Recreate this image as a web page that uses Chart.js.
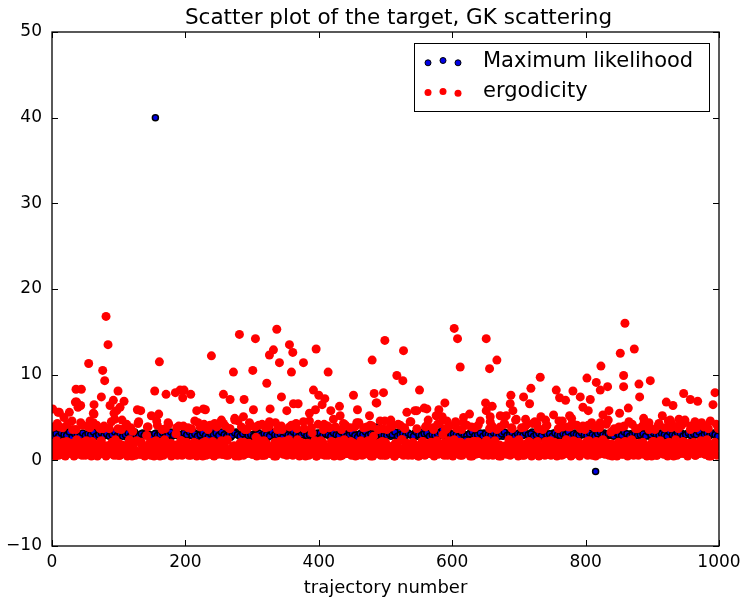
<!DOCTYPE html>
<html>
<head>
<meta charset="utf-8">
<script src="https://cdn.jsdelivr.net/npm/chart.js@4.4.0/dist/chart.umd.min.js"></script>
<style>
  body { margin: 0; background: #fff; }
  #wrap { width: 742px; height: 599px; }
</style>
</head>
<body>
<div id="wrap"><canvas id="g1"></canvas></div>
<script>
// Maximum likelihood: two interleaved runs of trajectories (every 4, offsets 0 and 2)
var mlStep = 4;
var mlBulkA = [
 3.0,2.8,3.2,2.9,3.1,2.7,3.3,3.0,2.9,3.2,2.8,3.1,3.0,2.7,3.3,2.9,3.1,3.0,2.8,3.2,2.9,3.4,3.0,2.8,3.1,
 2.9,3.2,3.0,2.7,3.1,2.9,3.3,2.8,3.0,3.2,2.9,3.1,2.7,3.0,3.2,2.8,3.3,2.9,3.1,3.0,2.8,3.2,2.9,3.0,3.1,
 3.2,2.8,3.0,3.3,2.9,3.1,2.7,3.0,3.2,2.9,3.4,3.0,2.8,3.1,2.9,3.2,3.0,2.7,3.1,3.3,2.9,3.0,2.8,3.2,3.0,
 2.8,3.1,3.3,2.9,3.0,3.2,2.7,3.1,2.9,3.0,3.2,2.8,3.3,3.0,2.9,3.1,2.8,3.2,3.0,2.9,3.1,2.7,3.3,3.0,2.9,
 3.1,2.9,3.0,3.2,2.8,3.0,3.3,2.9,3.1,2.7,3.0,3.2,2.9,3.1,3.0,2.8,3.2,3.4,2.9,3.0,3.1,2.8,3.0,3.2,2.9,
 3.0,3.2,2.8,3.1,2.9,3.3,3.0,2.7,3.1,3.0,2.9,3.2,2.8,3.0,3.3,2.9,3.1,3.0,2.8,3.2,2.9,3.0,3.1,2.7,3.2,
 2.9,3.0,3.2,2.8,3.1,3.0,2.9,3.3,2.8,3.0,3.1,2.9,3.2,3.0,2.7,3.1,3.0,2.9,3.3,2.8,3.0,3.2,2.9,3.1,3.0,
 3.2,2.9,3.0,3.1,2.8,3.3,2.9,3.0,3.2,2.7,3.1,3.0,2.9,3.2,2.8,3.0,3.1,3.3,2.9,3.0,2.8,3.2,3.0,2.9,3.1,
 3.0,2.8,3.1,3.2,2.9,3.0,2.7,3.2,3.0,2.9,3.3,3.1,2.8,3.0,3.2,2.9,3.0,3.1,2.8,3.3,3.0,2.9,3.2,3.0,2.8,
 3.1,3.0,2.9,3.2,2.8,3.0,3.1,2.9,3.3,3.0,2.8,3.2,2.9,3.1,3.0,2.7,3.2,3.0,2.9,3.1,3.3,2.8,3.0,3.2,2.9
];
var mlBulkB = [
 2.9,3.1,2.8,3.2,3.0,2.9,3.3,2.7,3.1,3.0,2.8,3.2,2.9,3.1,3.0,3.3,2.8,3.0,3.2,2.9,3.1,2.8,3.0,3.3,2.9,
 3.1,2.8,3.0,3.2,2.9,3.3,3.0,2.8,3.1,2.9,3.2,3.0,2.7,3.1,2.9,3.0,3.2,2.8,3.0,3.3,2.9,3.1,3.0,2.8,3.2,
 3.0,3.3,2.9,3.1,2.8,3.0,3.2,2.9,2.7,3.1,3.0,3.2,2.9,3.3,3.0,2.8,3.1,2.9,3.2,3.0,2.8,3.1,3.3,2.9,3.0,
 2.8,3.0,3.2,2.9,3.1,3.0,2.8,3.3,3.0,2.9,3.1,2.7,3.2,3.0,2.9,3.3,3.1,2.8,3.0,3.2,2.9,3.0,3.1,2.8,3.2,
 3.2,2.9,3.1,3.0,2.8,3.2,3.0,2.9,3.3,3.1,2.8,3.0,3.2,2.9,2.7,3.1,3.0,3.3,2.9,3.1,3.0,2.8,3.2,3.0,2.9,
 2.9,3.1,3.0,3.3,2.8,3.0,3.1,2.9,3.2,3.0,2.8,3.3,3.0,2.9,3.1,3.2,2.8,3.0,2.9,3.1,3.3,3.0,2.8,3.2,3.0,
 3.1,3.0,2.8,3.2,3.0,2.9,3.1,3.3,2.9,3.0,3.2,2.8,3.1,3.0,2.9,3.2,3.0,2.8,3.1,3.3,2.9,3.0,3.2,2.8,3.1,
 3.0,2.9,3.2,3.0,3.1,2.8,3.0,3.2,2.9,3.3,3.0,3.1,2.8,3.2,3.0,2.9,3.1,3.0,3.3,2.8,3.1,3.0,2.9,3.2,3.0,
 2.9,3.2,3.0,2.8,3.1,3.3,3.0,2.9,3.1,3.0,2.8,3.2,3.0,2.9,3.3,3.1,2.8,3.0,3.2,2.9,3.0,3.1,2.8,3.3,3.0,
 3.2,3.0,2.9,3.1,3.0,2.8,3.3,3.0,2.9,3.2,3.1,2.8,3.0,3.2,2.9,3.1,3.0,3.3,2.8,3.0,3.2,2.9,3.1,3.0,2.8
];
var mlOutX = [155, 815, 306, 487, 585, 620];
var mlOutY = [40.0, -1.3, 3.7, 3.9, 3.6, 2.4];

// ergodicity: dense band, even trajectories (A) and odd trajectories (B)
var ergStep = 2;
var ergBulkA = [
 1.2,3.9,0.8,2.1,4.3,0.6,1.7,0.9,3.8,1.1,0.5,2.2,1.4,1.5,0.9,4.6,2.0,1.3,3.6,0.7,2.0,1.0,1.6,4.1,1.8,
 0.6,2.3,3.9,1.4,0.9,2.2,4.4,1.1,0.7,0.5,1.9,3.7,2.3,0.8,4.0,1.6,1.2,0.7,3.7,1.2,2.1,0.9,4.8,1.4,0.6,
 2.0,0.6,3.6,1.7,1.0,0.8,4.2,1.3,2.4,3.8,0.5,1.8,1.1,2.2,1.0,4.5,0.7,2.1,1.4,1.5,0.9,2.9,3.9,1.2,0.6,
 1.3,1.9,0.8,2.3,4.1,1.1,0.5,1.6,2.2,1.6,3.7,0.9,4.4,1.4,2.0,0.7,1.2,1.8,3.1,0.6,4.0,1.3,2.3,0.8,1.0,
 0.8,2.1,3.8,1.2,0.6,1.1,1.7,4.6,2.0,0.9,0.7,3.9,1.5,0.5,4.2,2.2,1.1,3.6,0.7,1.9,1.4,0.6,4.3,0.9,1.9,
 1.6,1.0,2.3,0.7,1.8,4.0,2.3,0.6,3.7,1.3,0.8,0.9,4.7,1.6,1.1,0.5,2.0,3.9,1.2,2.1,0.8,3.6,1.7,4.4,1.1,
 0.7,1.2,1.5,2.7,0.9,4.1,1.9,0.6,0.6,2.3,3.8,1.1,1.6,4.5,0.8,1.6,1.4,2.1,0.5,3.6,1.3,0.9,4.0,1.0,2.2,
 1.8,0.6,2.0,3.9,1.2,0.9,1.3,1.7,4.3,2.4,0.7,1.1,1.4,2.0,3.7,0.5,1.6,1.1,4.6,1.9,3.2,0.8,2.3,0.5,1.5,
 1.4,1.0,0.7,2.1,4.2,1.6,0.9,0.6,3.8,1.3,2.1,4.8,0.9,1.7,1.2,2.2,0.5,3.6,1.2,2.4,4.1,0.8,1.9,1.0,2.2,
 0.9,2.0,3.9,1.4,0.6,4.4,1.6,1.1,0.8,0.7,1.8,3.9,2.3,1.5,0.5,4.0,2.8,1.0,1.3,0.8,2.0,4.6,1.3,3.7,0.6,
 2.1,3.6,0.8,1.6,4.3,1.0,1.7,0.5,1.2,1.9,0.9,4.1,2.4,1.2,3.8,0.7,2.0,0.6,1.5,4.5,0.6,1.9,1.1,1.4,1.7,
 0.5,1.4,1.3,2.2,0.8,3.9,1.8,4.7,1.0,2.1,0.7,3.6,1.3,2.0,4.2,0.9,1.1,1.6,3.0,0.6,3.7,1.2,2.3,4.0,1.9,
 1.0,0.7,1.9,4.4,2.1,1.1,0.6,3.6,1.5,0.9,0.9,4.1,2.1,1.3,1.4,0.5,2.2,3.8,1.0,2.2,0.8,4.6,1.7,1.2,1.4,
 1.1,2.3,0.6,3.7,1.8,4.0,0.9,2.3,1.1,1.4,0.5,3.9,1.6,1.0,4.3,1.7,0.7,1.3,2.0,1.2,3.7,0.8,2.1,4.8,1.5,
 2.4,0.9,3.8,1.3,0.6,1.9,4.2,1.6,2.1,0.7,1.4,1.0,4.5,1.9,2.2,0.5,1.1,1.4,3.6,0.8,2.2,4.1,1.2,0.9,0.6,
 1.6,1.3,0.8,2.0,1.1,4.6,2.0,0.6,3.9,1.4,0.8,0.9,3.9,1.7,0.5,4.3,2.3,1.2,1.0,0.7,2.1,3.7,1.0,4.0,1.8,
 0.8,2.2,4.1,1.3,1.2,0.6,1.9,3.8,2.2,1.0,0.7,4.4,1.5,2.4,1.4,0.9,2.0,4.7,1.2,3.3,0.5,1.6,1.7,3.6,1.1,
 3.9,1.2,0.7,1.9,4.0,1.8,0.9,1.3,2.2,1.4,4.2,0.6,2.0,1.0,3.7,1.6,0.8,1.0,2.1,4.5,1.3,0.5,0.8,3.9,1.9,
 1.0,2.2,3.6,0.6,1.5,4.3,2.3,0.9,1.2,1.8,0.7,2.0,4.6,1.1,3.8,1.6,0.5,1.7,3.9,1.3,0.9,0.8,4.1,2.2,1.4,
 2.0,0.8,1.4,1.6,4.0,1.0,2.1,0.6,3.8,1.8,1.2,0.9,4.4,1.9,1.1,0.7,2.4,3.7,1.5,0.5,1.3,1.1,2.1,4.2,1.8
];
var ergBulkB = [
 0.9,1.6,0.5,2.3,1.2,3.9,0.7,1.9,2.1,0.6,1.4,4.2,0.8,2.0,1.1,3.6,0.5,1.7,2.4,0.9,1.3,4.4,0.6,2.1,1.5,
 2.2,0.7,1.3,3.8,0.5,1.8,1.5,1.0,4.1,0.6,1.6,2.2,0.9,3.7,1.2,0.5,1.7,1.4,0.8,4.5,1.9,0.6,2.4,1.1,3.7,
 0.6,1.5,1.8,0.9,1.2,4.0,0.5,2.0,1.7,0.8,3.4,1.3,0.6,2.3,4.3,1.0,0.7,1.8,1.6,0.5,1.4,3.9,0.9,2.1,1.6,
 1.3,0.5,2.2,4.6,0.8,1.7,1.1,3.6,0.6,2.4,1.5,0.9,4.2,1.9,0.5,1.6,1.2,0.7,3.8,1.6,0.9,2.3,0.6,4.0,1.4,
 1.5,1.0,0.6,1.8,3.7,0.8,2.1,1.3,0.5,4.4,1.7,0.9,2.0,1.1,3.9,0.6,1.9,0.8,4.1,1.4,2.2,0.5,1.2,3.9,0.7,
 1.1,2.0,0.7,4.3,1.5,0.6,2.4,1.0,3.7,0.8,1.6,1.7,0.5,1.3,4.6,0.9,2.1,1.7,0.6,3.6,1.2,0.8,2.0,1.4,4.0,
 0.7,1.9,3.9,0.5,1.4,2.3,0.9,4.2,1.2,0.6,2.0,1.6,3.9,0.8,1.1,1.6,0.5,4.4,1.5,0.9,2.2,1.0,3.6,0.7,1.8,
 1.6,0.8,2.4,1.2,4.1,0.6,1.9,0.9,3.7,1.4,0.5,2.1,1.1,4.5,0.7,1.7,2.0,0.6,1.3,3.8,0.9,2.0,1.5,0.5,4.2,
 0.8,2.3,1.0,3.6,0.6,1.5,4.0,1.1,0.7,2.2,1.8,0.5,3.9,1.3,0.9,1.6,1.6,0.6,4.3,1.0,2.1,0.8,1.4,3.8,0.6,
 2.0,1.2,0.5,4.4,1.7,0.9,2.3,0.6,3.8,1.3,1.0,1.5,0.7,4.1,1.5,0.5,1.9,1.2,0.8,3.6,1.2,0.6,2.2,1.6,4.6,
 0.6,1.4,1.6,0.9,3.9,1.1,0.5,2.0,1.7,4.2,0.8,1.3,2.4,0.6,3.7,1.8,1.0,0.7,4.5,1.5,2.1,0.9,1.2,3.7,0.5,
 1.7,0.9,2.2,1.3,0.6,4.0,1.9,0.8,1.5,1.1,3.8,0.5,1.6,2.3,0.7,4.3,1.2,0.9,2.0,1.4,3.6,0.6,1.8,1.6,1.0,
 0.5,2.4,1.1,3.7,0.8,1.5,2.1,0.6,4.4,1.3,0.9,1.7,1.7,0.5,3.9,1.0,2.2,0.7,1.4,4.1,0.8,1.9,1.5,0.6,1.2,
 2.3,0.7,1.6,4.5,1.0,0.6,2.0,1.4,3.6,0.9,1.8,0.5,1.6,1.2,4.2,0.8,1.5,2.4,0.6,3.8,1.1,0.9,2.1,1.7,0.5,
 1.0,1.8,0.6,1.5,3.9,1.3,0.8,2.2,1.6,0.5,4.3,1.1,2.0,0.7,3.7,1.4,0.9,1.6,1.2,0.6,4.0,1.7,0.8,2.3,1.5,
 0.8,2.1,1.4,0.5,3.7,1.9,1.0,4.6,0.7,1.6,2.4,0.9,1.2,3.9,0.6,2.2,1.5,0.8,4.1,1.1,0.5,1.7,1.8,0.9,3.6,
 1.5,0.6,2.3,1.1,4.4,0.8,1.7,0.5,1.6,1.3,3.8,0.9,2.0,1.6,0.7,4.2,1.2,0.6,1.5,1.9,0.9,3.7,1.4,0.5,2.1,
 0.9,1.3,3.9,0.7,2.2,1.6,0.5,4.5,1.0,2.4,0.8,1.8,3.7,1.2,0.6,2.0,1.5,4.0,0.7,1.1,1.6,0.9,3.6,1.7,0.5,
 2.2,0.8,1.5,0.6,4.1,1.9,1.1,1.5,0.7,3.8,1.4,0.5,2.1,1.7,4.3,0.9,1.2,2.4,0.6,3.7,1.6,1.0,1.7,0.8,4.4,
 1.2,0.5,2.0,3.6,0.9,1.7,1.6,0.6,4.2,1.4,0.8,2.3,1.1,3.9,0.7,1.5,2.1,0.5,4.6,1.3,0.9,1.8,1.5,0.6,3.7
];
// ergodicity points above the band
var ergOutX = [1,9,11,18,26,35,36,37,39,43,44,55,57,62,63,63,74,76,79,81,84,87,92,93,97,99,102,105,108,128,133,149,154,160,161,171,
  185,192,196,198,208,217,227,230,239,254,257,267,272,274,281,287,288,301,302,305,322,326,327,332,337,341,344,352,356,359,361,
  362,369,377,386,392,395,396,400,405,409,414,418,431,432,452,458,476,480,483,486,487,497,499,508,517,526,527,532,544,547,551,
  558,562,576,580,585,589,592,603,605,608,612,617,626,650,651,651,656,657,660,667,672,677,681,687,688,691,695,707,710,716,718,
  727,732,733,740,752,756,761,770,776,779,781,792,796,802,804,807,816,822,823,826,833,835,851,852,857,857,859,864,873,880,881,
  887,895,897,915,921,927,931,940,947,949,957,964,968,982,991,994];
var ergOutY = [6.0,5.6,5.6,5.0,5.6,6.8,8.3,6.8,6.2,6.4,8.3,11.3,4.6,5.5,6.5,5.4,7.4,10.5,9.3,16.8,13.5,6.4,7.0,5.5,5.8,8.1,6.2,4.7,6.9,5.9,5.8,5.2,8.1,5.4,11.5,7.7,
  7.9,8.2,7.3,8.2,7.7,5.8,6.0,5.9,12.2,4.7,7.7,7.1,10.3,4.9,14.7,5.1,7.1,10.5,5.9,14.2,9.0,12.3,6.0,12.9,15.3,11.4,7.4,5.8,13.5,10.3,12.6,
  6.6,6.6,11.4,5.5,8.2,5.9,13.0,7.6,6.5,7.2,10.3,5.8,6.3,5.2,7.6,5.9,5.2,11.7,7.8,6.7,6.7,7.9,14.0,4.7,9.9,9.3,12.8,5.6,5.8,5.8,8.2,
  6.1,6.0,5.2,5.9,5.1,6.7,4.6,15.4,4.5,14.2,10.9,5.0,5.4,6.7,14.2,5.8,10.7,5.1,6.3,11.7,5.2,5.1,5.2,6.6,7.6,5.8,4.7,7.4,4.8,6.6,8.4,
  4.3,9.7,5.1,4.7,5.3,8.2,7.3,7.0,5.2,4.9,8.1,7.4,6.2,9.6,5.8,7.1,9.1,8.2,11.0,5.3,8.6,5.8,5.5,12.5,9.9,8.6,16.0,6.1,13.0,8.9,7.4,
  4.9,4.4,9.3,5.2,6.8,4.7,6.4,4.8,7.8,4.7,7.1,4.5,6.9,4.0,6.5,7.9];

var xTicks = [0, 200, 400, 600, 800, 1000];
var yTicks = [-10, 0, 10, 20, 30, 40, 50];

// susun data scatter
var mlData = [];
for (var i = 0; i < mlBulkA.length; i++) mlData.push({x: i * mlStep, y: mlBulkA[i]});
for (var i = 0; i < mlBulkB.length; i++) mlData.push({x: i * mlStep + 2, y: mlBulkB[i]});
for (var i = 0; i < mlOutX.length; i++) mlData.push({x: mlOutX[i], y: mlOutY[i]});

var ergData = [];
for (var i = 0; i < ergBulkA.length; i++) ergData.push({x: i * ergStep, y: ergBulkA[i]});
for (var i = 0; i < ergBulkB.length; i++) ergData.push({x: i * ergStep + 1, y: ergBulkB[i]});
for (var i = 0; i < ergOutX.length; i++) ergData.push({x: ergOutX[i], y: ergOutY[i]});

var FONT = "'DejaVu Sans', 'Liberation Sans', sans-serif";

// frame, inward ticks, title and the three-dot legend (matplotlib look)
var mplLook = {
    id: 'mplLook',
    afterDraw: function(chart) {
        var ctx = chart.ctx, a = chart.chartArea;
        var xs = chart.scales.x, ys = chart.scales.y;
        ctx.save();
        ctx.strokeStyle = '#000';
        ctx.lineWidth = 1;
        ctx.beginPath();
        xs.ticks.forEach(function(t) {
            var px = Math.round(xs.getPixelForValue(t.value)) + 0.5;
            ctx.moveTo(px, a.bottom); ctx.lineTo(px, a.bottom - 6);
            ctx.moveTo(px, a.top); ctx.lineTo(px, a.top + 6);
        });
        ys.ticks.forEach(function(t) {
            var py = Math.round(ys.getPixelForValue(t.value)) + 0.5;
            ctx.moveTo(a.left, py); ctx.lineTo(a.left + 6, py);
            ctx.moveTo(a.right, py); ctx.lineTo(a.right - 6, py);
        });
        ctx.stroke();
        ctx.lineWidth = 1.3;
        ctx.strokeRect(a.left, a.top, a.right - a.left, a.bottom - a.top);

        // title
        ctx.fillStyle = '#000';
        ctx.font = '21.5px ' + FONT;
        ctx.textAlign = 'center';
        ctx.textBaseline = 'middle';
        ctx.fillText('Scatter plot of the target, GK scattering', (a.left + a.right) / 2 + 13, 18);

        // legend
        var bx = a.right - 305, by = a.top + 11, bw = 295, bh = 68;
        ctx.fillStyle = '#fff';
        ctx.fillRect(bx, by, bw, bh);
        ctx.lineWidth = 1;
        ctx.strokeRect(bx + 0.5, by + 0.5, bw, bh);
        var rows = [
            {ds: chart.data.datasets[0], y: by + 18.5, dy: [1.3, -1, 1.3], r: 3},
            {ds: chart.data.datasets[1], y: by + 49, dy: [0.5, -0.6, 1.2], r: 3.5}
        ];
        rows.forEach(function(row) {
            for (var k = 0; k < 3; k++) {
                ctx.beginPath();
                ctx.arc(bx + 14 + k * 15, row.y + row.dy[k], row.r, 0, Math.PI * 2);
                ctx.fillStyle = row.ds.backgroundColor;
                ctx.fill();
                if (row.ds.borderWidth) {
                    ctx.lineWidth = 1;
                    ctx.strokeStyle = row.ds.borderColor;
                    ctx.stroke();
                }
            }
            ctx.fillStyle = '#000';
            ctx.font = '21px ' + FONT;
            ctx.textAlign = 'left';
            ctx.textBaseline = 'middle';
            ctx.fillText(row.ds.label, bx + 69, row.y);
        });
        ctx.restore();
    }
};

var ctx_1 = document.getElementById('g1');

var myChart = new Chart(ctx_1, {
    type: 'scatter',
    data: {
        datasets: [{
            label: 'Maximum likelihood',
            data: mlData,
            backgroundColor: 'rgb(0, 0, 230)',
            borderColor: '#000',
            borderWidth: 1.5,
            pointRadius: 3,
            order: 2,
            clip: 0
        }, {
            label: 'ergodicity',
            data: ergData,
            backgroundColor: 'rgb(255, 0, 0)',
            borderColor: 'rgb(255, 0, 0)',
            borderWidth: 0,
            pointRadius: 4.5,
            order: 1,
            clip: 0
        }]
    },
    plugins: [mplLook],
    options: {
        responsive: true,
        maintainAspectRatio: false,
        animation: false,
        events: [],
        layout: {
            padding: {top: 32, right: 23, left: 0, bottom: 0}
        },
        plugins: {
            legend: {display: false},
            title: {display: false},
            tooltip: {enabled: false}
        },
        scales: {
            x: {
                type: 'linear',
                min: 0,
                max: 1000,
                afterBuildTicks: function(scale) {
                    scale.ticks = xTicks.map(function(v) { return {value: v}; });
                },
                afterFit: function(scale) {
                    scale.height = 53;
                    scale.paddingLeft = 0;
                    scale.paddingRight = 0;
                },
                grid: {display: false, drawTicks: false},
                border: {display: false},
                ticks: {
                    color: '#000',
                    padding: 6,
                    maxRotation: 0,
                    font: {family: FONT, size: 17},
                    callback: function(v) { return String(v); }
                },
                title: {
                    display: true,
                    text: 'trajectory number',
                    color: '#000',
                    font: {family: FONT, size: 18},
                    padding: {top: 0, bottom: 0}
                }
            },
            y: {
                type: 'linear',
                min: -10,
                max: 50,
                afterBuildTicks: function(scale) {
                    scale.ticks = yTicks.map(function(v) { return {value: v}; });
                },
                afterFit: function(scale) {
                    scale.width = 52;
                    scale.paddingTop = 0;
                    scale.paddingBottom = 0;
                },
                grid: {display: false, drawTicks: false},
                border: {display: false},
                ticks: {
                    color: '#000',
                    padding: 10,
                    font: {family: FONT, size: 17},
                    callback: function(v) { return String(v).replace('-', '\u2212'); }
                }
            }
        }
    }
});
</script>
</body>
</html>
